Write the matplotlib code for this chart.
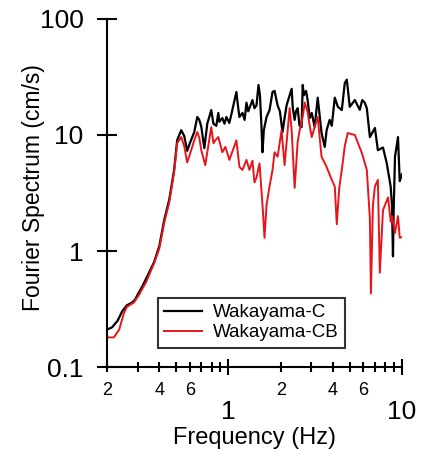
import matplotlib
matplotlib.use("Agg")
import matplotlib.pyplot as plt
from matplotlib.ticker import FixedLocator, FixedFormatter, NullFormatter

plt.rcParams['font.family'] = ['Liberation Sans', 'DejaVu Sans']

# Fourier spectra (Hz, cm/s)
freq_c = [0.2, 0.214, 0.23, 0.244, 0.26, 0.279, 0.29, 0.30, 0.318, 0.34,
          0.373, 0.40, 0.427, 0.456, 0.487, 0.507, 0.535, 0.557, 0.579, 0.60,
          0.636, 0.662, 0.68, 0.698, 0.727, 0.756, 0.797, 0.82, 0.852, 0.875,
          0.887, 0.923, 0.95, 0.974, 1.013, 1.05, 1.112, 1.14, 1.158, 1.205,
          1.24, 1.271, 1.30, 1.322, 1.376, 1.413, 1.452, 1.491, 1.52, 1.55,
          1.572, 1.60, 1.659, 1.726, 1.796, 1.845, 1.921, 1.98, 2.051, 2.107,
          2.164, 2.253, 2.314, 2.35, 2.408, 2.45, 2.506, 2.57, 2.64, 2.68,
          2.72, 2.8, 2.86, 2.94, 3.02, 3.14, 3.27, 3.35, 3.44, 3.59,
          3.68, 3.83, 3.94, 4.10, 4.27, 4.50, 4.68, 4.81, 5.0, 5.35,
          5.71, 5.9, 6.1, 6.27, 6.53, 6.98, 7.26, 7.77, 8.17, 8.6,
          8.75, 8.87, 8.95, 9.11, 9.48, 9.7, 10.0]
amp_c = [0.21, 0.22, 0.25, 0.30, 0.34, 0.36, 0.38, 0.42, 0.49, 0.6,
         0.80, 1.1, 1.85, 2.75, 5.0, 9.0, 11.0, 9.8, 7.3, 8.5,
         10.6, 14.3, 13.5, 11.8, 7.7, 12.5, 16.4, 12.5, 12.0, 15.5,
         13.0, 14.0, 12.5, 14.3, 12.7, 16, 23.5, 17, 14.3, 15.5,
         13.5, 19, 16, 17, 20, 17, 18, 27, 22, 12,
         7.1, 11, 14.3, 16.4, 23.5, 24, 18, 16, 10.6, 14,
         18, 22, 25, 17, 13.5, 16, 17, 12, 11.7, 27,
         22, 24, 20, 14, 15.5, 11.7, 21, 15, 10.4, 7.9,
         11, 13.5, 12, 21, 17.5, 16.4, 28, 30, 17.5, 20,
         16.5, 20, 19, 17, 9.6, 11.5, 7.4, 7.8, 5.7, 3.6,
         2.5, 0.9, 2.2, 6.5, 9.6, 4.0, 4.6]

freq_cb = [0.2, 0.219, 0.235, 0.25, 0.26, 0.286, 0.306, 0.336, 0.373, 0.40,
           0.427, 0.456, 0.487, 0.507, 0.535, 0.557, 0.579, 0.60, 0.636, 0.662,
           0.68, 0.698, 0.736, 0.797, 0.82, 0.841, 0.875, 0.923, 0.961, 1.013,
           1.112, 1.158, 1.205, 1.271, 1.322, 1.376, 1.413, 1.452, 1.511, 1.572,
           1.615, 1.659, 1.726, 1.796, 1.845, 1.921, 2.024, 2.107, 2.253, 2.314,
           2.408, 2.506, 2.574, 2.679, 2.752, 2.86, 2.94, 3.02, 3.27, 3.44,
           3.68, 3.94, 4.10, 4.21, 4.35, 4.50, 4.68, 4.87, 5.35, 5.87,
           6.27, 6.53, 6.62, 6.8, 6.98, 7.26, 7.45, 7.77, 8.31, 8.6,
           8.75, 9.11, 9.48, 9.7, 10.0]
amp_cb = [0.18, 0.18, 0.21, 0.29, 0.33, 0.36, 0.42, 0.54, 0.78, 1.05,
          1.75, 2.6, 4.8, 8.5, 9.6, 8.0, 5.8, 6.8, 9.0, 10.6,
          9.5, 7.4, 5.5, 11.7, 8.5, 9.0, 9.6, 7.1, 7.9, 6.1,
          9.0, 5.3, 5.0, 6.1, 5.0, 6.0, 3.9, 4.3, 5.7, 2.5,
          1.3, 2.5, 3.6, 5.0, 7.1, 6.5, 11, 5.5, 17, 11,
          3.5, 8.7, 11, 14.3, 19, 15.8, 12, 9.6, 14.3, 6.5,
          5.3, 4.1, 3.6, 1.7, 3.5, 5.0, 8, 10.4, 10.0, 7.0,
          5.0, 1.9, 0.43, 2.5, 3.6, 4.1, 0.65, 2.25, 2.9, 1.8,
          2.0, 1.43, 2.0, 1.3, 1.32]

x_major = [1, 10]
x_major_labels = ['1', '10']
x_minor = [0.2, 0.3, 0.4, 0.5, 0.6, 0.7, 0.8, 0.9,
           2, 3, 4, 5, 6, 7, 8, 9]
x_minor_labels = ['2', '', '4', '', '6', '', '', '',
                  '2', '', '4', '', '6', '', '', '']
y_major = [0.1, 1, 10, 100]
y_labels = ['0.1', '1', '10', '100']

fig = plt.figure(figsize=(4.27, 4.5), dpi=100)
ax = fig.add_axes([0.2506, 0.1844, 0.6909, 0.7734])

ax.plot(freq_c, amp_c, color='black', lw=1.6, label='Wakayama-C')
ax.plot(freq_cb, amp_cb, color='#e8141c', lw=1.4, label='Wakayama-CB')

ax.set_xscale('log')
ax.set_yscale('log')
ax.set_xlim(0.2, 10)
ax.set_ylim(0.1, 100)

ax.xaxis.set_major_locator(FixedLocator(x_major))
ax.xaxis.set_major_formatter(FixedFormatter(x_major_labels))
ax.xaxis.set_minor_locator(FixedLocator(x_minor))
ax.xaxis.set_minor_formatter(FixedFormatter(x_minor_labels))
ax.yaxis.set_major_locator(FixedLocator(y_major))
ax.yaxis.set_major_formatter(FixedFormatter(y_labels))
ax.yaxis.set_minor_locator(FixedLocator([]))
ax.yaxis.set_minor_formatter(NullFormatter())

for side in ['top', 'right']:
    ax.spines[side].set_visible(False)
for side in ['left', 'bottom']:
    ax.spines[side].set_linewidth(1.5)

ax.tick_params(axis='x', which='major', direction='inout', length=12,
               width=1.5, labelsize=19, pad=18)
ax.tick_params(axis='x', which='minor', direction='inout', length=7,
               width=1.5, labelsize=13, pad=7)
ax.tick_params(axis='y', which='major', direction='inout', length=14,
               width=1.5, labelsize=19, pad=10)

ax.set_xlabel('Frequency (Hz)', fontsize=17)
ax.xaxis.set_label_coords(0.5, -0.172)
ax.set_ylabel('Fourier Spectrum (cm/s)', fontsize=16.5)
ax.yaxis.set_label_coords(-0.21, 0.515)

leg = ax.legend(loc='lower left', bbox_to_anchor=(0.172, 0.055),
                fontsize=13.5, frameon=True, fancybox=False, borderpad=0.35,
                handlelength=2.0, handletextpad=0.6, labelspacing=0.15,
                borderaxespad=0)
leg.get_frame().set_edgecolor('black')
leg.get_frame().set_linewidth(1.5)

fig.savefig('out.png', dpi=100)
